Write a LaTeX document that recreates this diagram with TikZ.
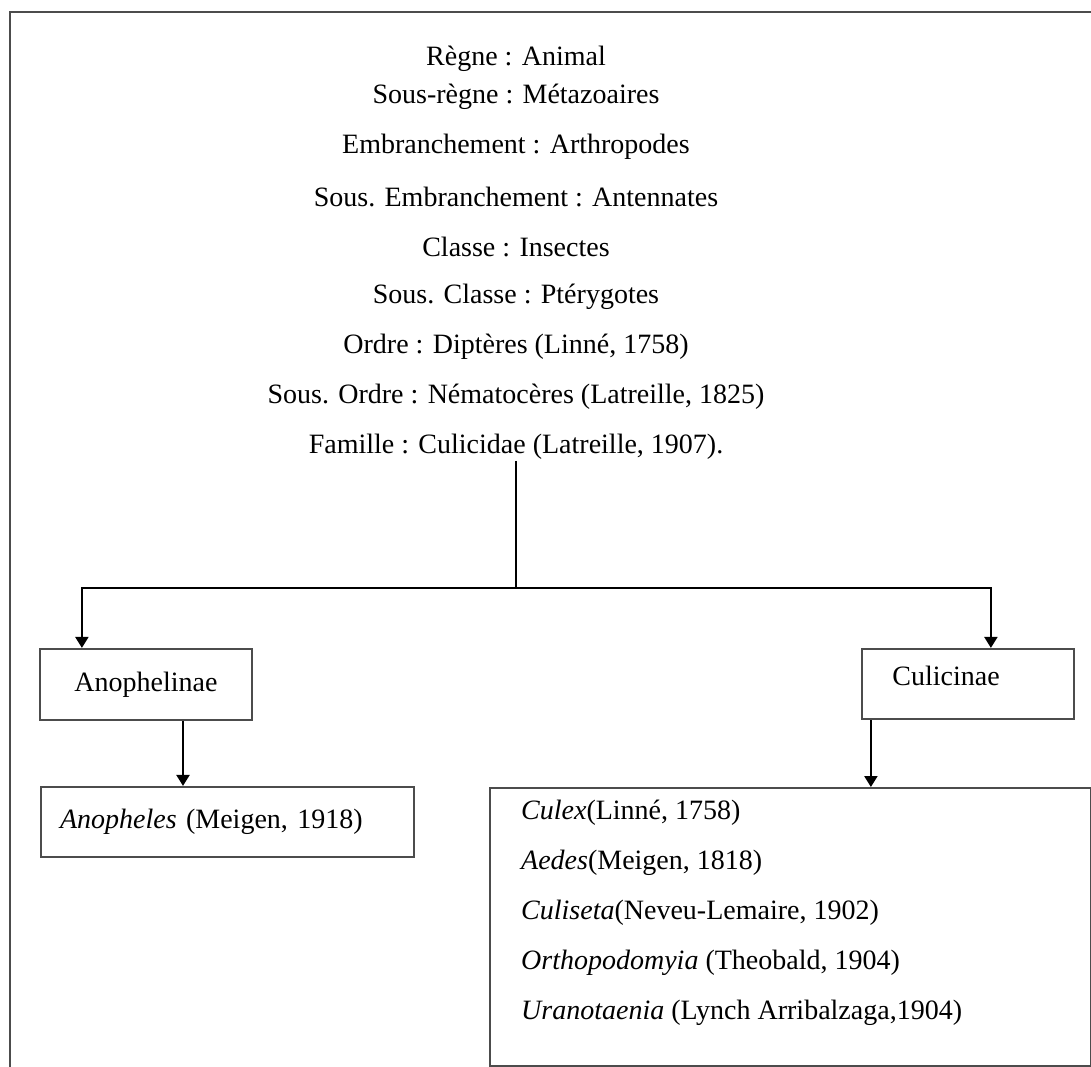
\documentclass[tikz,border=0pt]{standalone}
\usepackage{fontspec}
\setmainfont{Liberation Serif}
\usetikzlibrary{arrows.meta,positioning}

\begin{document}
\begin{tikzpicture}[x=1pt,y=-1pt,>={Triangle[length=11pt,width=13pt]},
  node distance=50pt,
  rank/.style={font=\fontsize{28}{34}\selectfont,text=black,inner sep=1pt},
  taxbox/.style={draw=black!70,line width=2.2pt,font=\fontsize{28}{34}\selectfont,text=black,inner sep=0pt},
  genlist/.style={font=\fontsize{28}{50}\selectfont,text=black,inner sep=0pt,align=left},
  conn/.style={->,line width=2.2pt}]

\useasboundingbox (0,0) rectangle (1091,1066);
\draw[black!70,line width=2.5pt] (10,1075) -- (10,12) -- (1100,12);

% classification
\node[rank] (regne) at (516,59) {Règne : Animal};
\node[rank] (sregne) [below of=regne,node distance=38pt] {Sous-règne : Métazoaires};
\node[rank] (embr) [below of=sregne] {Embranchement : Arthropodes};
\node[rank] (sembr) [below of=embr] {Sous. Embranchement : Antennates};
\node[rank] (classe) [below of=sembr] {Classe : Insectes};
\node[rank] (sclasse) [below of=classe] {Sous. Classe : Ptérygotes};
\node[rank] (ordre) [below of=sclasse] {Ordre : Diptères (Linné, 1758)};
\node[rank] (sordre) [below of=ordre] {Sous. Ordre : Nématocères (Latreille, 1825)};
\node[rank] (famille) [below of=sordre] {Famille : Culicidae (Latreille, 1907).};

% sous-familles
\coordinate (fork) at (516,588);
\node[taxbox,minimum width=212pt,minimum height=71pt] (anoph) at (146,684.5) {Anophelinae};
\node[taxbox,minimum width=212pt,minimum height=70pt,text depth=16pt] (culic) at (968,684) {Culicinae\hspace*{44pt}};

% genres
\node[taxbox,text width=335pt,align=left,inner xsep=19pt,minimum height=70pt,anchor=west] (anogen) at (40,822) {\textit{Anopheles} (Meigen, 1918)};
\node[taxbox,minimum width=601pt,minimum height=278pt,anchor=north west] (genres) at (489,787) {};
\node[genlist,anchor=north west] (culex) at ([xshift=32pt,yshift=-13pt]genres.north west)
  {\textit{Culex}(Linné, 1758)\\
   \textit{Aedes}(Meigen, 1818)\\
   \textit{Culiseta}(Neveu-Lemaire, 1902)\\
   \textit{Orthopodomyia} (Theobald, 1904)\\
   \textit{Uranotaenia} (Lynch Arribalzaga,1904)};

\draw[line width=1.6pt] (famille) -- (fork);
\draw[conn] (fork) -| ([xshift=43pt]anoph.north west);
\draw[conn] (fork) -| ([xshift=130pt]culic.north west);
\draw[conn] ([xshift=37pt]anoph.south) -- ([xshift=37pt]anoph.south |- anogen.north);
\draw[conn] ([xshift=10pt]culic.south west) -- ([xshift=10pt]culic.south west |- genres.north);

\end{tikzpicture}
\end{document}
